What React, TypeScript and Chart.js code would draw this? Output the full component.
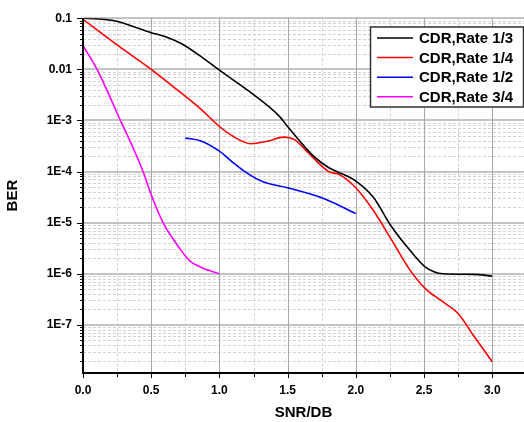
import React, { useEffect, useRef } from "react";
import { Chart, registerables } from "chart.js";

Chart.register(...registerables);

const seriesLabels = ["CDR,Rate 1/3", "CDR,Rate 1/4", "CDR,Rate 1/2", "CDR,Rate 3/4"];
const seriesColors = ["#000000", "#ff0000", "#0000ff", "#ff00ff"];

const rate13X = [0, 0.22, 0.5, 0.61, 0.72, 0.85, 1.0, 1.25, 1.44, 1.5, 1.69, 1.8, 1.86, 2.0, 2.13, 2.25, 2.4, 2.51, 2.64, 2.86, 3.0];
const rate13Y = [0.1, 0.09, 0.052, 0.043, 0.032, 0.019, 0.0096, 0.0032, 0.0012, 7.6e-4, 2e-4, 1.2e-4, 1.0e-4, 6.5e-5, 3.1e-5, 9.3e-6, 2.8e-6, 1.35e-6, 1.0e-6, 9.7e-7, 9.0e-7];

const rate14X = [0, 0.257, 0.5, 0.71, 0.86, 1.0, 1.1, 1.23, 1.35, 1.47, 1.55, 1.64, 1.8, 1.88, 2.0, 2.13, 2.25, 2.4, 2.51, 2.64, 2.75, 2.86, 3.0];
const rate14Y = [0.095, 0.029, 0.01, 0.0036, 0.0017, 7.6e-4, 4.9e-4, 3.5e-4, 3.9e-4, 4.7e-4, 4.2e-4, 2.5e-4, 1.0e-4, 8.7e-5, 4.8e-5, 1.7e-5, 5.2e-6, 1.15e-6, 5.1e-7, 2.8e-7, 1.66e-7, 6.3e-8, 1.9e-8];

const rate12X = [0.75, 0.86, 1.0, 1.1, 1.2, 1.32, 1.5, 1.76, 2.0];
const rate12Y = [4.5e-4, 4.0e-4, 2.5e-4, 1.5e-4, 9.4e-5, 6.3e-5, 4.8e-5, 3.0e-5, 1.5e-5];

const rate34X = [0, 0.103, 0.19, 0.274, 0.36, 0.44, 0.5, 0.587, 0.71, 0.78, 0.89, 1.0];
const rate34Y = [0.029, 0.01, 3.2e-3, 1e-3, 3.2e-4, 1e-4, 3.5e-5, 1e-5, 3.1e-6, 1.8e-6, 1.25e-6, 1e-6];

const seriesX = [rate13X, rate14X, rate12X, rate34X];
const seriesY = [rate13Y, rate14Y, rate12Y, rate34Y];

const xMin = 0;
const xMax = 3.233;
const xMajorStep = 0.5;
const xMinorStep = 0.25;
const yMin = 1.14e-8;
const yMax = 0.1;
const yTickValues = [1e-7, 1e-6, 1e-5, 1e-4, 1e-3, 1e-2, 1e-1];

const FONT = '"Liberation Sans", Arial, sans-serif';

function yLabel(v: number): string {
  if (Math.abs(v - 0.1) < 1e-12) return "0.1";
  if (Math.abs(v - 0.01) < 1e-13) return "0.01";
  const e = Math.round(Math.log10(v));
  return "1E" + e;
}

const gridPlugin = {
  id: "customGrid",
  beforeDatasetsDraw(chart: any) {
    const { ctx, chartArea } = chart;
    const xs = chart.scales.x;
    const ys = chart.scales.y;
    ctx.save();
    ctx.lineWidth = 1;
    ctx.strokeStyle = "#d2d2d2";
    ctx.setLineDash([3, 2]);
    for (let e = -8; e <= -2; e++) {
      for (let k = 2; k <= 9; k++) {
        const v = k * Math.pow(10, e);
        if (v <= yMin || v >= yMax) continue;
        const py = Math.round(ys.getPixelForValue(v)) + 0.5;
        ctx.beginPath();
        ctx.moveTo(chartArea.left, py);
        ctx.lineTo(chartArea.right, py);
        ctx.stroke();
      }
    }
    for (let v = xMinorStep; v < xMax; v += xMajorStep) {
      const px = Math.round(xs.getPixelForValue(v)) + 0.5;
      ctx.beginPath();
      ctx.moveTo(px, chartArea.top);
      ctx.lineTo(px, chartArea.bottom);
      ctx.stroke();
    }
    ctx.setLineDash([]);
    ctx.strokeStyle = "#c4c4c4";
    ctx.lineWidth = 2;
    yTickValues.forEach((v) => {
      const py = Math.round(ys.getPixelForValue(v));
      ctx.beginPath();
      ctx.moveTo(chartArea.left, py);
      ctx.lineTo(chartArea.right, py);
      ctx.stroke();
    });
    ctx.strokeStyle = "#a8a8a8";
    ctx.lineWidth = 1;
    for (let v = xMajorStep; v < xMax; v += xMajorStep) {
      const px = Math.round(xs.getPixelForValue(v)) + 0.5;
      ctx.beginPath();
      ctx.moveTo(px, chartArea.top);
      ctx.lineTo(px, chartArea.bottom);
      ctx.stroke();
    }
    ctx.restore();
  },
  afterDatasetsDraw(chart: any) {
    const { ctx, chartArea } = chart;
    const xs = chart.scales.x;
    const ys = chart.scales.y;
    ctx.save();
    ctx.strokeStyle = "#000";
    ctx.lineWidth = 1;
    for (let e = -8; e <= -1; e++) {
      for (let k = 1; k <= 9; k++) {
        const v = k * Math.pow(10, e);
        if (v < yMin || v > yMax * 1.0001) continue;
        const py = Math.round(ys.getPixelForValue(v)) + 0.5;
        const len = k === 1 ? 6 : 3;
        ctx.beginPath();
        ctx.moveTo(chartArea.left - len, py);
        ctx.lineTo(chartArea.left, py);
        ctx.stroke();
      }
    }
    for (let i = 0; i * xMinorStep < xMax; i++) {
      const v = i * xMinorStep;
      const px = Math.round(xs.getPixelForValue(v)) + 0.5;
      const len = i % 2 === 0 ? 5 : 4;
      ctx.beginPath();
      ctx.moveTo(px, chartArea.bottom);
      ctx.lineTo(px, chartArea.bottom + len);
      ctx.stroke();
    }
    ctx.lineWidth = 2;
    ctx.beginPath();
    ctx.moveTo(chartArea.left, chartArea.top);
    ctx.lineTo(chartArea.left, chartArea.bottom);
    ctx.lineTo(chartArea.right, chartArea.bottom);
    ctx.stroke();
    ctx.restore();
  },
  afterDraw(chart: any) {
    const ctx = chart.ctx;
    const x0 = 370.5, y0 = 27, w = 153, h = 80;
    ctx.save();
    ctx.fillStyle = "#ffffff";
    ctx.fillRect(x0, y0, w, h);
    ctx.strokeStyle = "#333333";
    ctx.lineWidth = 1.5;
    ctx.strokeRect(x0, y0, w, h);
    ctx.font = "bold 15px " + FONT;
    ctx.textBaseline = "middle";
    ctx.textAlign = "left";
    chart.data.datasets.forEach((ds: any, i: number) => {
      const cy = 38 + i * 19.6;
      ctx.strokeStyle = ds.borderColor;
      ctx.lineWidth = 1.5;
      ctx.beginPath();
      ctx.moveTo(377, cy);
      ctx.lineTo(413, cy);
      ctx.stroke();
      ctx.fillStyle = "#000";
      ctx.fillText(ds.label, 419, cy + 1);
    });
    ctx.restore();
  },
};

export default function App() {
  const ref = useRef<HTMLCanvasElement | null>(null);
  useEffect(() => {
    if (!ref.current) return;
    const datasets = seriesLabels.map((label, i) => ({
      label,
      data: seriesX[i].map((x, j) => ({ x, y: seriesY[i][j] })),
      borderColor: seriesColors[i],
      backgroundColor: seriesColors[i],
      borderWidth: 1.6,
      pointRadius: 0,
      fill: false,
      cubicInterpolationMode: "monotone" as const,
    }));
    const chart = new Chart(ref.current, {
      type: "line",
      data: { datasets },
      plugins: [gridPlugin],
      options: {
        animation: false,
        responsive: false,
        maintainAspectRatio: false,
        layout: { padding: { top: 16, right: 0, left: 0, bottom: 0 } },
        plugins: { legend: { display: false }, tooltip: { enabled: false } },
        scales: {
          x: {
            type: "linear",
            min: xMin,
            max: xMax,
            grid: { display: false, drawTicks: false },
            border: { display: false },
            ticks: {
              stepSize: xMajorStep,
              includeBounds: false,
              padding: 10,
              color: "#000",
              font: { family: FONT, size: 12, weight: "bold" },
              callback: (v: any) => Number(v).toFixed(1),
              maxRotation: 0,
            },
            title: {
              display: true,
              text: "SNR/DB",
              color: "#000",
              font: { family: FONT, size: 15, weight: "bold" },
              padding: { top: 0, bottom: 0 },
            },
            afterFit: (s: any) => {
              s.height = 49;
            },
          },
          y: {
            type: "logarithmic",
            min: yMin,
            max: yMax,
            grid: { display: false, drawTicks: false },
            border: { display: false },
            afterBuildTicks: (s: any) => {
              s.ticks = yTickValues.map((v) => ({ value: v, major: true }));
            },
            ticks: {
              padding: 11,
              color: "#000",
              font: { family: FONT, size: 12, weight: "bold" },
              callback: (v: any) => yLabel(Number(v)),
              autoSkip: false,
            },
            title: {
              display: true,
              text: "BER",
              color: "#000",
              font: { family: FONT, size: 15, weight: "bold" },
              padding: { top: 4, bottom: 0 },
            },
            afterFit: (s: any) => {
              s.width = 83;
            },
          },
        },
      },
    });
    return () => chart.destroy();
  }, []);
  return (
    <div style={{ position: "absolute", left: 0, top: 0, width: 524, height: 422, background: "#fff" }}>
      <canvas ref={ref} width={524} height={422} />
    </div>
  );
}
